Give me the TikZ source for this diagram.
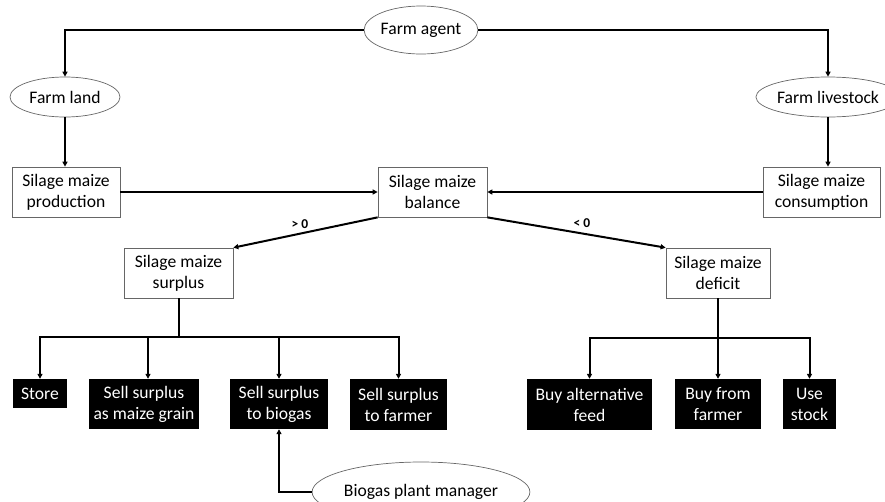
\documentclass[tikz,border=0pt]{standalone}
\usepackage{fontspec}
\setmainfont{Carlito}
\usetikzlibrary{shapes.geometric,arrows.meta}
\begin{document}
\begin{tikzpicture}[x=1pt,y=-1pt,
  every node/.style={font=\fontsize{17.6}{21}\selectfont, inner sep=0pt, align=center},
  oval/.style={ellipse, draw=black!60, line width=0.7pt},
  wbox/.style={rectangle, draw=black!60, line width=0.7pt, fill=white},
  bbox/.style={rectangle, fill=black, text=white},
  conn/.style={line width=2pt, draw=black},
  arr/.style={conn, -{Triangle[length=5pt,width=5pt]}},
  cond/.style={font=\fontsize{13.5}{14}\bfseries\selectfont}
]
\useasboundingbox (0,0) rectangle (885,501);
\clip (0,0) rectangle (885,501);

% ellipses
\node[oval, minimum width=106pt, minimum height=48pt] (agent) at (421,30) {Farm agent};
\node[oval, minimum width=110pt, minimum height=40pt] (land) at (65,97) {Farm land};
\node[oval, minimum width=124pt, minimum height=40pt] (livestock) at (828,97) {Farm livestock};
\node[oval, minimum width=178pt, minimum height=60pt] (mgr) at (421,492) {Biogas plant manager};

% white boxes
\node[wbox, minimum width=108pt, minimum height=50pt] (prod) at (66,192) {Silage maize\\production};
\node[wbox, minimum width=109pt, minimum height=50pt] (bal) at (432.5,192) {Silage maize\\balance};
\node[wbox, minimum width=117pt, minimum height=50pt] (cons) at (821.5,192) {Silage maize\\consumption};
\node[wbox, minimum width=109pt, minimum height=50pt] (surp) at (178.5,273) {Silage maize\\surplus};
\node[wbox, minimum width=104pt, minimum height=50pt] (defi) at (718,273) {Silage maize\\deficit};

% black boxes
\node[bbox, minimum width=54pt, minimum height=29pt] (store) at (40,393.5) {Store};
\node[bbox, minimum width=110pt, minimum height=50pt] (grain) at (144,404) {Sell surplus\\as maize grain};
\node[bbox, minimum width=98pt, minimum height=50pt] (biogas) at (279,404) {Sell surplus\\to biogas};
\node[bbox, minimum width=97pt, minimum height=51pt] (sfarmer) at (398.5,404.5) {Sell surplus\\to farmer};
\node[bbox, minimum width=125pt, minimum height=51pt] (alt) at (589.5,404.5) {Buy alternative\\feed};
\node[bbox, minimum width=86pt, minimum height=50pt] (bfarmer) at (718,404) {Buy from\\farmer};
\node[bbox, minimum width=53pt, minimum height=50pt] (stock) at (809.5,404) {Use\\stock};

% condition labels
\node[cond] (gt) at (300,224) {> 0};
\node[cond] (lt) at (582,223) {< 0};

% connectors
\draw[arr] (agent.west) -| (land.north);
\draw[arr] (agent.east) -| (livestock.north);
\draw[arr] (land.south) -- (land.south |- prod.north);
\draw[arr] (livestock.south) -- (livestock.south |- cons.north);
\draw[arr] (prod.east) -- (bal.west);
\draw[arr] (cons.west) -- (bal.east);
\draw[arr] (bal.south west) -- (surp.north east);
\draw[arr] (bal.south east) -- (defi.north west);

\coordinate (sj) at (178.5,337);
\draw[conn] (surp.south) -- (sj);
\draw[arr] (sj) -| (store.north);
\draw[arr] (sj) -| ([xshift=4pt]grain.north);
\draw[arr] (sj) -| (biogas.north);
\draw[arr] (sj) -| (sfarmer.north);

\coordinate (dj) at (718,338);
\draw[conn] (defi.south) -- (dj);
\draw[arr] (dj) -| (alt.north);
\draw[arr] (dj) -- (bfarmer.north);
\draw[arr] (dj) -| (stock.north);

\draw[arr] (mgr.west) -| (biogas.south);
\end{tikzpicture}
\end{document}
